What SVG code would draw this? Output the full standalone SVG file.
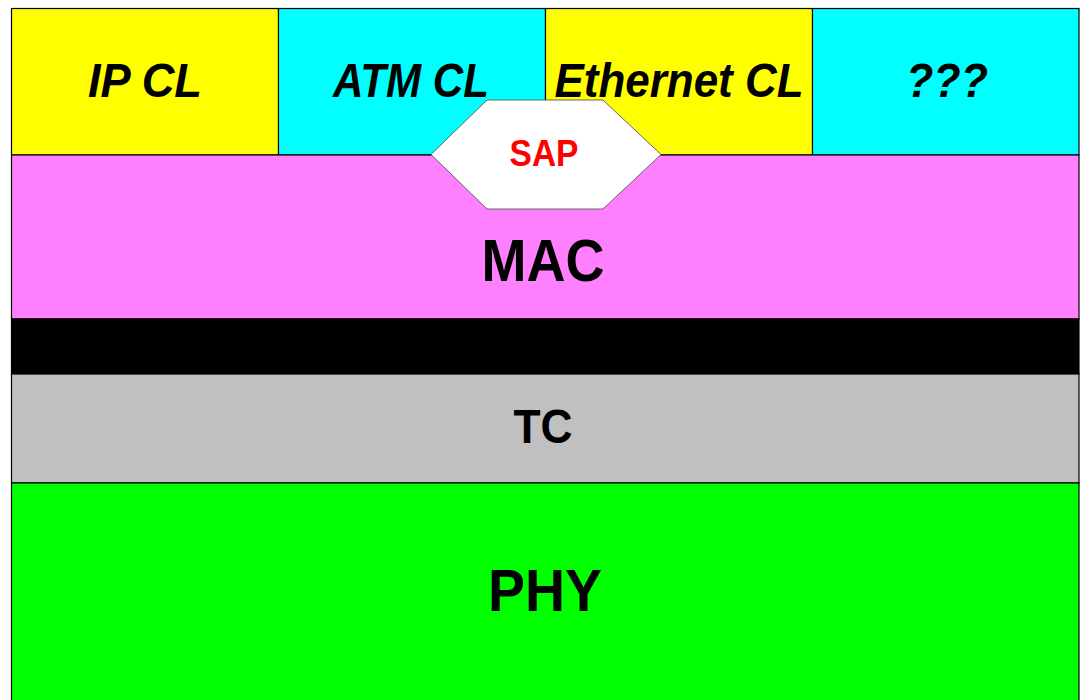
<svg xmlns="http://www.w3.org/2000/svg" width="1082" height="700" viewBox="0 0 1082 700">
<style>
.box{stroke:#000;stroke-width:1.2}
.cl{font-family:"Liberation Sans",Arial,sans-serif;font-weight:bold;font-style:italic;font-size:49px;fill:#000;text-anchor:middle}
.lay{font-family:"Liberation Sans",Arial,sans-serif;font-weight:bold;fill:#000;text-anchor:middle}
</style>
<rect x="0" y="0" width="1082" height="700" fill="#fff"/>
<g id="ipcl"><rect class="box" x="11.5" y="8.5" width="267" height="146.5" fill="#ffff00"/><text class="cl" x="145" y="97" textLength="114" lengthAdjust="spacingAndGlyphs">IP CL</text></g>
<g id="atmcl"><rect class="box" x="278.5" y="8.5" width="267" height="146.5" fill="#00ffff"/><text class="cl" x="411" y="97" textLength="156" lengthAdjust="spacingAndGlyphs">ATM CL</text></g>
<g id="ethcl"><rect class="box" x="545.5" y="8.5" width="267" height="146.5" fill="#ffff00"/><text class="cl" x="679" y="97" textLength="249" lengthAdjust="spacingAndGlyphs">Ethernet CL</text></g>
<g id="unknown"><rect class="box" x="812.5" y="8.5" width="266.5" height="146.5" fill="#00ffff"/><text class="cl" x="947" y="97" textLength="82" lengthAdjust="spacingAndGlyphs">???</text></g>
<g id="mac"><rect class="box" x="11.5" y="155" width="1067.5" height="164" fill="#ff80ff"/><text class="lay" x="543" y="281" font-size="59" textLength="123" lengthAdjust="spacingAndGlyphs">MAC</text></g>
<g id="band"><rect x="11.5" y="319" width="1067.5" height="55" fill="#000" stroke="#000" stroke-width="1.2"/></g>
<g id="tc"><rect class="box" x="11.5" y="374" width="1067.5" height="109" fill="#c0c0c0"/><text class="lay" x="543" y="443" font-size="49" textLength="59" lengthAdjust="spacingAndGlyphs">TC</text></g>
<g id="phy"><rect class="box" x="11.5" y="483" width="1067.5" height="230" fill="#00ff00"/><text class="lay" x="545" y="611" font-size="60" textLength="114" lengthAdjust="spacingAndGlyphs">PHY</text></g>
<g id="sap"><polygon points="487,100 603,100 661,154.5 603,209 487,209 431,154.5" fill="#fff" stroke="#666" stroke-width="1"/><text x="544" y="166" font-family="'Liberation Sans',Arial,sans-serif" font-weight="bold" font-size="36" fill="#ff0000" text-anchor="middle" textLength="69" lengthAdjust="spacingAndGlyphs">SAP</text></g>
<g id="connectors"></g>
</svg>
